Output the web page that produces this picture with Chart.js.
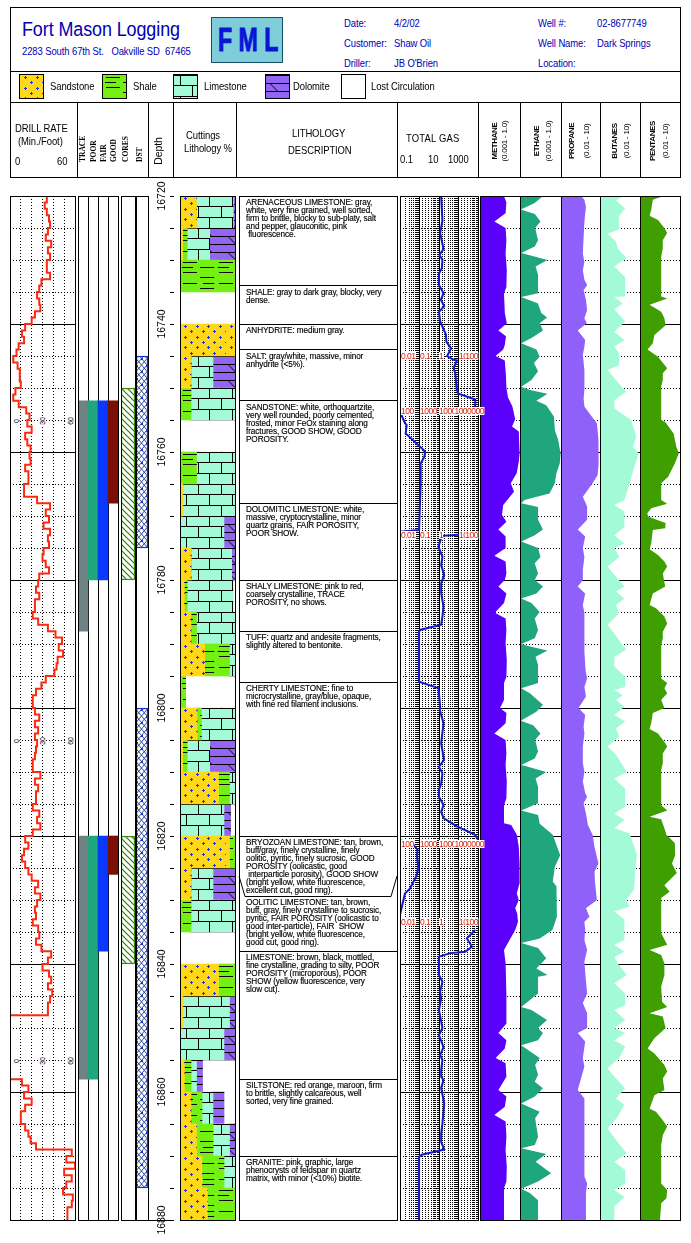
<!DOCTYPE html>
<html>
<head>
<meta charset="utf-8">
<title>Fort Mason Logging</title>
<script src="https://cdn.jsdelivr.net/npm/chart.js@4"></script>
<style>
  body { margin: 0; background: #fff; }
  #page { position: relative; width: 691px; height: 1243px; overflow: hidden; font-family: 'Liberation Sans', Arial, sans-serif; }
  #page canvas { position: absolute; }
  .t { position: absolute; white-space: pre; color: #000; font-size: 10.5px; line-height: 12px; letter-spacing: -0.1px; transform: scaleX(0.9); transform-origin: left center; }
  .blue { color: #0000b4; }
  .rule { position: absolute; background: #000; }
  .swatch { position: absolute; width: 23px; height: 23px; border: 1px solid #000; top: 74px; }
  .desc { font-size: 8.2px; line-height: 8px; letter-spacing: -0.1px; -webkit-text-stroke: 0.15px #000; transform: none; }
  .gasTick { color: #e0200c; background: #fff; font-size: 8.5px; line-height: 8px; letter-spacing: -0.5px; transform: none; }
</style>
</head>
<body>
<div id="page"></div>
<script>
// ============ Data ============
const TOP_DEPTH = 16720;
const BOTTOM_DEPTH = 16880;

// drill rate, min/foot, one value per foot from 16720
const drillRate = [
  34, 32, 34, 36, 37, 35, 33, 38, 35, 37, 34, 34, 37, 29, 27, 25, 27, 28, 23, 20,
  14, 11, 13, 8, 6, 3, 7, 9, 9, 10, 5, 3, 8, 15, 18, 16, 20, 14, 16, 19,
  18, 19, 14, 17, 17, 13, 13, 25, 37, 33, 36, 31, 37, 35, 36, 31, 30, 33, 36, 27,
  26, 24, 27, 23, 23, 21, 26, 35, 42, 48, 45, 49, 44, 43, 41, 33, 29, 24, 21, 21,
  23, 27, 23, 26, 23, 25, 24, 23, 21, 21, 28, 23, 26, 24, 24, 21, 27, 25, 28, 21,
  14, 17, 13, 11, 14, 17, 20, 26, 23, 28, 25, 23, 24, 21, 26, 27, 24, 29, 38, 35,
  30, 36, 38, 35, 39, 37, 35, 35, 0, 0, 0, 0, 0, 0, 0, 0, 0, 0, 11, 17,
  13, 20, 14, 10, 10, 14, 17, 19, 24, 57, 52, 60, 50, 57, 52, 49, 58, 57, 53, 53, 53
];
const showColumns = ['TRACE', 'POOR', 'FAIR', 'GOOD'];
const showIntervals1 = [[16752, 16788], [16752, 16780], [16752, 16780], [16752, 16768]];
const showIntervals2 = [[16820, 16858], [16820, 16858], [16820, 16838], [16820, 16826]];
const coreIntervals = [[16750, 16780], [16820, 16840]];
const dstIntervals = [[16745, 16775], [16800, 16875]];
const depthTicks = 5;

// cuttings, percent per 5 foot sample
const cuttingLabels = [
  '16720', '16725', '16730', '16735', '16740', '16745', '16750', '16755',
  '16760', '16765', '16770', '16775', '16780', '16785', '16790', '16795',
  '16800', '16805', '16810', '16815', '16820', '16825', '16830', '16835',
  '16840', '16845', '16850', '16855', '16860', '16865', '16870', '16875'
];
const sandstone = [30, 5, 0, 0, 100, 20, 0, 0, 0, 5, 0, 20, 8, 20, 45, 0, 31, 5, 70, 0, 90, 20, 0, 0, 70, 5, 0, 8, 20, 30, 40, 50];
const shale = [0, 8, 100, 0, 0, 0, 20, 0, 30, 0, 0, 0, 5, 10, 45, 10, 8, 8, 20, 0, 10, 0, 20, 0, 30, 0, 0, 12, 20, 30, 40, 50];
const limestone = [67, 41, 0, 0, 0, 40, 80, 0, 70, 95, 80, 74, 83, 70, 10, 0, 61, 41, 10, 80, 0, 40, 80, 0, 0, 85, 80, 10, 20, 30, 20, 0];
const dolomite = [3, 46, 0, 0, 0, 40, 0, 0, 0, 0, 20, 6, 0, 0, 0, 0, 0, 46, 0, 12, 0, 40, 0, 0, 0, 10, 20, 11, 20, 10, 0, 0];

// formation tops and description text
const descriptionTops = [16734, 16740, 16744, 16752, 16768, 16780, 16788, 16796, 16820, 16838, 16858, 16870];
const bryozoanBase = 16829.4;
const bryozoanNotch = 16826.25;
const descriptions = [
  [16720, 'ARENACEOUS LIMESTONE: gray,\nwhite, very fine grained, well sorted,\nfirm to brittle, blocky to sub-platy, salt\nand pepper, glauconitic, pink\n fluorescence.'],
  [16734, 'SHALE: gray to dark gray, blocky, very\ndense.'],
  [16740, 'ANHYDRITE: medium gray.'],
  [16744, 'SALT: gray/white, massive, minor\nanhydrite (<5%).'],
  [16752, 'SANDSTONE: white, orthoquartzite,\nvery well rounded, poorly cemented,\nfrosted, minor FeOx staining along\nfractures, GOOD SHOW, GOOD\nPOROSITY.'],
  [16768, 'DOLOMITIC LIMESTONE: white,\nmassive, cryptocrystalline, minor\nquartz grains, FAIR POROSITY,\nPOOR SHOW.'],
  [16780, 'SHALY LIMESTONE: pink to red,\ncoarsely crystalline, TRACE\nPOROSITY, no shows.'],
  [16788, 'TUFF: quartz and andesite fragments,\nslightly altered to bentonite.'],
  [16796, 'CHERTY LIMESTONE: fine to\nmicrocrystalline, gray/blue, opaque,\nwith fine red filament inclusions.'],
  [16820, 'BRYOZOAN LIMESTONE: tan, brown,\nbuff/gray, finely crystalline, finely\noolitic, pyritic, finely sucrosic, GOOD\nPOROSITY (oolicastic, good\n interparticle porosity), GOOD SHOW\n(bright yellow, white fluorescence,\nexcellent cut, good ring).'],
  [16829.4, 'OOLITIC LIMESTONE: tan, brown,\nbuff, gray, finely crystalline to sucrosic,\npyritic, FAIR POROSITY (oolicastic to\ngood inter-particle), FAIR  SHOW\n(bright yellow, white fluorescence,\ngood cut, good ring).'],
  [16838, 'LIMESTONE: brown, black, mottled,\nfine crystalline, grading to silty, POOR\nPOROSITY (microporous), POOR\nSHOW (yellow fluorescence, very\nslow cut).'],
  [16858, 'SILTSTONE: red orange, maroon, firm\nto brittle, slightly calcareous, well\nsorted, very fine grained.'],
  [16870, 'GRANITE: pink, graphic, large\nphenocrysts of feldspar in quartz\nmatrix, with minor (<10%) biotite.']
];

// total gas, null breaks the curve where the scale wraps
const gasFeet = [
  0.1, 3.8, 5.8, 8.3, 9.2, 10, 11.3, 12.1, 13.9, 15.2, 16.2, 17.2, 18.1, 19.6, 20.4, 21.6, 22.8, 23.8, 25, 25.6, 25.7, 26.9, 27.7, 30.3, 30.9, 31.8, 33.3, 33.5, 33.6,
  33.7, 35.5, 35.8, 37.1, 39.4, 39.95, 40.7, 42, 44.9, 52.2, 52.45, 52.5,
  52.6, 53, 53.1, 54.8, 56.4, 57.7, 59.2, 60.5, 62, 64.2, 65.7, 67, 67.8, 68.1, 75.9, 76.9, 79.8, 80.3, 82.4, 85.5, 88.1, 89.2, 90.2, 91.8, 92.8, 93.85, 95.15, 96.2, 97.2, 98.5, 99.8, 100.6, 100.65,
  100.7, 100.9, 101.4, 102.2, 103, 104.8, 106.1, 108.2, 109, 112.3, 112.4,
  114.7, 116, 117.3, 118.1, 118.3, 118.85, 120.9, 121.7, 122.8, 124.3, 125.4, 127.2, 130, 131.1, 133, 134.2, 135, 136.6, 137.6, 138.1, 139.4, 141.8, 144.9, 146.5, 147.8, 149, 149.8, 150.1, 160
];
const gasValue = [
  1.29, 1.5, 1.15, 1.7, 1.05, 1.5, 1.4, 1.0, 1.0, 1.7, 1.25, 1.85, 1.0, 1.15, 1.5, 2.25, 2.4, 4.2, 2.6, 5.6, 8.3, 5.6, 6.8, 8.3, 10, 72, 72, 100, null,
  0.01, 0.018, 0.022, 0.0195, 0.13, 0.195, 0.18, 0.107, 0.115, 0.095, 0.01, null,
  100, 4.6, 1.4, 0.94, 1.5, 1.29, 1.85, 1.29, 1.29, 1.7, 1.5, 1.29, 0.107, 0.095, 0.095, 0.94, 1.15, 1.1, 1.7, 1.29, 1.8, 1.0, 1.5, 1.29, 1.0, 1.0, 1.7, 1.29, 1.7, 8.3, 72, 100, null,
  0.01, 0.027, 0.049, 0.081, 0.073, 0.088, 0.073, 0.033, 0.018, 0.01, null,
  72, 27, 49, 22, 3.8, 1.0, 1.0, 1.0, 1.5, 1.15, 1.29, 1.0, 1.5, 1.0, 1.7, 1.15, 1.5, 1.29, 1.29, 1.7, 1.29, 1.85, 1.5, 1.29, 1.29, 1.85, 0.13, 0.095, 0.095
];
const gasDecades = [0.01, 0.1, 1, 10, 100];
const gasScaleBands = [
  [16745, ['0.01', '0.1', '1', '10', '100']],
  [16753.6, ['100', '1000', '10000', '100000', '1000000']],
  [16772.9, ['0.01', '0.1', '1', '10', '100']],
  [16821.3, ['100', '1000', '10000', '100000', '1000000']],
  [16833.4, ['0.01', '0.1', '1', '10', '100']]
];

// chromatograph curves, percent of track width at feet below the top
const methaneFeet = [0, 1, 2.7, 4, 5, 6.9, 9, 11.6, 14.2, 15.2, 18.3, 19.9, 21, 21.9, 23.3, 24, 25, 25.7, 28.2, 30, 31.5, 32.9, 34.9, 36, 36.8, 40.2, 41.5, 43.3, 44.9, 46.2, 48.3, 49.8, 50.9, 52.1, 53.2, 55, 56.2, 57.1, 59, 60, 61, 62.1, 63.6, 65.1, 66, 67.8, 69.9, 72.5, 75.1, 76.1, 78.75, 80, 80.8, 82.4, 84, 85, 87.1, 88.9, 91.5, 94.1, 95.2, 98, 98.3, 99.8, 101.7, 104.3, 105.6, 107.4, 109, 110, 111.3, 112.1, 113.4, 114.7, 116.25, 117.8, 119.9, 124.8, 129.3, 130.8, 131.9, 133.2, 134.7, 135.5, 137.6, 139.7, 140.7, 142.3, 143.6, 144.6, 147, 149.1, 151.7, 154, 155, 160];
const methane = [60, 66, 64, 36, 64, 66, 64, 67, 66, 60, 62, 67, 46, 65, 62, 58, 39, 62, 65, 66, 70, 81, 88, 80, 97, 99, 97, 92, 77, 85, 58, 55, 66, 46, 64, 64, 36, 64, 66, 62, 46, 66, 60, 37, 64, 66, 64, 67, 66, 60, 60, 50, 66, 64, 36, 64, 66, 64, 67, 66, 60, 60, 78, 92, 97, 99, 99, 99, 92, 97, 88, 93, 95, 88, 74, 60, 64, 66, 66, 46, 66, 62, 39, 64, 66, 46, 66, 62, 36, 64, 66, 64, 67, 66, 60, 60];

const ethaneFeet = [0, 1.1, 2.1, 2.8, 4, 5, 6.9, 7.9, 8.9, 10, 11, 12.3, 15.2, 15.8, 16.8, 18.3, 19, 19.9, 21, 22.2, 23, 24, 25.1, 26.1, 27.4, 28.75, 29.8, 30.3, 30.9, 32, 32.7, 34.5, 36.6, 38.1, 40.2, 41.8, 43.3, 44.9, 46.5, 47.5, 48, 48.6, 50.6, 52.1, 53, 54, 55, 56.4, 57.4, 59, 60, 61, 62.1, 62.9, 63.6, 65, 66, 67.8, 69.1, 70, 70.4, 71, 72, 73.3, 76.1, 76.9, 77.7, 79.5, 80.6, 82, 82.7, 84, 85, 86.8, 87.9, 88.9, 89.1, 90, 91, 92.3, 94.9, 96, 96.7, 98.1, 99.8, 103, 104.8, 107.1, 107.9, 110, 112.6, 114.7, 116, 116.7, 117.5, 119.1, 120.7, 121.7, 122, 124.6, 126.7, 127.2, 128.75, 130, 130.8, 131.9, 132.7, 134.7, 135.8, 137.3, 138.4, 139.4, 140.7, 141.8, 143.1, 144.1, 147, 148.3, 148.8, 149.7, 150.9, 152.7, 154, 155.1, 155.8, 156.9, 160];
const ethane = [56, 36, 2, 36, 50, 37, 44, 36, 3, 67, 38, 44, 44, 3, 44, 52, 66, 48, 56, 28, 3, 40, 48, 34, 44, 28, 3, 24, 67, 40, 64, 83, 85, 93, 99, 97, 89, 85, 72, 11, 3, 44, 44, 56, 36, 3, 44, 50, 36, 44, 36, 56, 40, 3, 28, 48, 36, 44, 36, 3, 24, 67, 38, 44, 44, 3, 24, 56, 40, 2, 32, 50, 37, 44, 36, 3, 15, 64, 38, 44, 44, 3, 44, 48, 80, 98, 85, 80, 89, 90, 90, 79, 48, 3, 44, 64, 40, 67, 44, 44, 3, 28, 66, 44, 56, 44, 3, 48, 37, 44, 36, 56, 36, 3, 48, 37, 44, 36, 3, 64, 38, 76, 44, 3, 24, 44, 44];

const propaneFeet = [0, 0.6, 1.7, 4, 6.4, 9, 10.3, 11.6, 13.1, 13.9, 14.7, 16.25, 17.8, 19.1, 19.9, 21, 22.5, 23.5, 24.8, 27.2, 30.3, 31.6, 32.9, 34, 35.5, 38.1, 40.2, 41.8, 43.6, 44.9, 47, 48.5, 50.6, 52.1, 53.2, 55, 56.4, 58.4, 60, 61, 62.1, 63.9, 65.1, 66.8, 69.9, 71.2, 74.1, 75.4, 76.7, 78.2, 80, 81.1, 82.9, 84, 86, 88.6, 90, 91.5, 93.3, 93.85, 94.9, 96.5, 98.3, 99.8, 101.7, 104.3, 105.6, 107.1, 110, 111.3, 112.6, 113.4, 114.7, 116.25, 117.8, 119.6, 122, 124.6, 126.1, 127.7, 130, 130.8, 132.1, 134.7, 136, 139.7, 141, 143.3, 149.9, 153.2, 154.3, 155.8, 160];
const propane = [52, 60, 64, 60, 58, 56, 60, 56, 60, 67, 58, 64, 67, 60, 66, 43, 62, 60, 56, 60, 60, 58, 60, 73, 92, 96, 97, 96, 94, 81, 56, 67, 67, 43, 62, 56, 60, 56, 56, 43, 62, 56, 60, 60, 60, 60, 63, 67, 60, 64, 45, 62, 58, 60, 56, 56, 60, 56, 62, 67, 58, 64, 69, 81, 86, 96, 86, 87, 92, 64, 73, 60, 62, 60, 67, 60, 63, 67, 56, 67, 67, 43, 62, 56, 60, 43, 60, 60, 60, 60, 67, 64, 64];

const butanesFeet = [0, 0.7, 1.9, 3.2, 5.2, 5.9, 7.1, 8.2, 9.7, 11, 12.7, 15.7, 15.8, 16.8, 17.7, 19.6, 21.2, 22.5, 23.5, 24.6, 26.4, 27.2, 28.75, 30.6, 31.9, 33.2, 35, 37.6, 39.2, 40.2, 42.3, 44.9, 47.5, 48.3, 49.3, 51.7, 53, 54.3, 55, 56.4, 57.9, 59.5, 61, 61.8, 62.9, 63.9, 65.2, 67, 68.9, 70.9, 72, 73.5, 75.1, 76.7, 77.2, 78, 78.75, 79.8, 81.1, 82.1, 83.2, 84.5, 86, 87.3, 90, 91, 92.6, 95.4, 96.5, 97.5, 98.8, 99.6, 101.7, 103, 105.8, 108.4, 110, 111, 111.8, 113.1, 116.25, 117, 118.1, 118.9, 119.9, 121.7, 123, 124.6, 126.4, 127.2, 128.75, 130, 130.8, 131.9, 132.9, 134.7, 136.3, 137.9, 139.4, 141, 142, 143.9, 145.7, 147.5, 149.6, 150.9, 152.2, 154.3, 155.3, 156.4, 157.9, 160];
const butanes = [57, 40, 63, 47, 48, 19, 40, 44, 67, 36, 63, 63, 36, 57, 36, 63, 36, 61, 36, 48, 48, 19, 40, 65, 36, 36, 78, 91, 82, 97, 86, 74, 61, 36, 61, 61, 36, 61, 36, 48, 19, 40, 61, 40, 61, 40, 48, 19, 42, 65, 36, 36, 63, 63, 36, 57, 40, 61, 36, 63, 40, 48, 19, 40, 67, 36, 63, 63, 36, 61, 36, 74, 86, 92, 88, 85, 65, 74, 36, 61, 61, 36, 61, 36, 44, 67, 36, 63, 63, 36, 63, 36, 63, 36, 63, 48, 19, 40, 63, 40, 61, 44, 19, 40, 67, 36, 63, 63, 36, 61, 36, 36];

const pentanesFeet = [0, 0.6, 2.2, 3.1, 3.75, 5, 5.8, 6.9, 8.2, 9.5, 15.7, 16, 17, 18.1, 19.1, 20.2, 21.7, 23, 24, 25.1, 26.9, 27.7, 28.75, 29.8, 35, 35.3, 37.1, 39.2, 40.2, 41.8, 43.9, 44.9, 47.5, 48.1, 48.8, 49.6, 50.1, 51.1, 51.9, 52.2, 54.3, 55.2, 56.1, 57.1, 57.9, 59, 61, 62.1, 63.9, 64.4, 65.7, 66.8, 68.1, 69.1, 70.2, 75.4, 76.1, 76.9, 77.7, 78.75, 80, 80.8, 82.4, 83.3, 84, 85.3, 86, 87.1, 88.6, 89.7, 95.2, 96, 97, 97.4, 98.8, 99.8, 101.1, 103, 104.3, 105.8, 107.7, 108.7, 109.7, 115.2, 117, 117.8, 118.6, 119.9, 121.7, 123.5, 125.9, 126.7, 127.7, 128.2, 130, 131.6, 133.2, 134, 135.8, 136.8, 137.9, 139.7, 140.5, 142.6, 143.1, 144.4, 145.4, 146.7, 148.3, 154.3, 155.3, 156.6, 157.4, 160];
const pentanes = [59, 32, 28, 24, 45, 61, 68, 57, 57, 53, 53, 68, 24, 53, 61, 64, 36, 32, 19, 45, 68, 57, 57, 53, 53, 63, 84, 91, 97, 87, 70, 53, 53, 68, 28, 18, 21, 64, 63, 32, 28, 24, 45, 61, 68, 57, 63, 32, 24, 40, 61, 68, 57, 57, 53, 53, 68, 61, 68, 53, 61, 32, 28, 24, 45, 61, 68, 57, 57, 53, 53, 68, 24, 53, 61, 66, 87, 88, 80, 92, 61, 74, 53, 53, 68, 24, 53, 61, 61, 53, 55, 68, 24, 57, 64, 36, 19, 36, 61, 68, 57, 61, 36, 24, 40, 57, 68, 57, 53, 53, 68, 66, 53, 50];

// ============ Helpers ============
const BLACK = '#000';
const page = document.getElementById('page');

function put(text, x, y, css = {}, cls = '') {
    const el = document.createElement('div');
    el.className = 't ' + cls;
    el.textContent = text;
    el.style.left = x + 'px';
    el.style.top = y + 'px';
    Object.assign(el.style, css);
    page.appendChild(el);
    return el;
}

// text centred on x,y and turned to read upward
function putUp(text, x, y, css = {}) {
    return put(text, x, y, { transform: 'translate(-50%,-50%) rotate(-90deg)', transformOrigin: 'center', ...css });
}

function rule(x, y, w, h) {
    const el = document.createElement('div');
    el.className = 'rule';
    el.style.cssText = `left:${x}px;top:${y}px;width:${w}px;height:${h}px`;
    page.appendChild(el);
}

function tile(w, h, bg, draw) {
    const c = document.createElement('canvas');
    c.width = w;
    c.height = h;
    const g = c.getContext('2d');
    g.fillStyle = bg;
    g.fillRect(0, 0, w, h);
    g.strokeStyle = BLACK;
    g.lineWidth = 1;
    const seg = (x1, y1, x2, y2) => {
        g.beginPath();
        g.moveTo(x1, y1);
        g.lineTo(x2, y2);
        g.stroke();
    };
    draw(g, seg);
    return c;
}

// ============ Rock and test patterns ============
const sandTile = tile(46, 32, '#ffd81c', (g) => {
    g.fillStyle = '#1438e0';
    for (let r = 0; r < 6; r++) {
        for (let k = 0; k < 4; k++) {
            const x = 5 + 11.5 * k + (r % 2 ? 6 : 0);
            const y = 2 + 5.33 * r;
            g.fillRect(Math.round(x) - 1, Math.round(y), 3, 1);
            g.fillRect(Math.round(x), Math.round(y) - 1, 1, 3);
        }
    }
});
const shaleTile = tile(36, 32, '#74f014', (g, seg) => {
    for (let r = 0; r < 6; r++) {
        const y = 2.5 + Math.floor(5.33 * r);
        const x = r % 2 ? 20 : 3;
        seg(x, y, x + 14, y);
        if (x + 14 > 36) seg(0, y, x + 14 - 36, y);
        const x2 = r % 2 ? 2 : 23;
        if (r % 3 === 1) seg(x2, y, x2 + 11, y);
    }
});
const limeTile = tile(46, 64, '#a2fbd6', (g, seg) => {
    for (let r = 0; r < 6; r++) {
        const y1 = Math.floor(10.67 * r) + 0.5;
        const y2 = Math.floor(10.67 * (r + 1)) + 0.5;
        seg(0, y1, 46, y1);
        const xs = r % 2 ? [18.5, 41.5] : [6.5, 29.5];
        xs.forEach((x) => seg(x, y1, x, y2));
    }
});
const doloTile = tile(44, 32, '#9464f4', (g, seg) => {
    for (let r = 0; r < 4; r++) {
        const y = 8 * r + 0.5;
        seg(0, y, 44, y);
        const x = r % 2 ? 4 : 24;
        seg(x, y, x + 8, y + 8);
    }
});
const hatchTile = tile(6, 6, '#fff', (g, seg) => {
    g.strokeStyle = '#2f7a08';
    g.lineWidth = 1.2;
    seg(-1, -1, 7, 7);
    seg(-4, 2, 2, 8);
    seg(4, -2, 8, 2);
});
const dstTile = tile(11, 13, '#fff', (g, seg) => {
    g.strokeStyle = '#2f4a94';
    seg(0, 0, 11, 13);
    seg(5.5, 0, 11, 6.5);
    seg(0, 6.5, 5.5, 13);
    seg(11, 0, 0, 13);
    seg(5.5, 0, 0, 6.5);
    seg(11, 6.5, 5.5, 13);
    g.fillStyle = '#1034e8';
    g.fillRect(5, 6, 2, 2);
    g.fillRect(0, 0, 2, 2);
    g.fillRect(10, 0, 1, 2);
});

function patternFrom(canvas) {
    const p = canvas.getContext('2d').createPattern(canvas, 'repeat');
    p.setTransform(new DOMMatrix().translate(1, 1));
    return p;
}

// ============ Track charts ============
const framePlugin = {
    id: 'frame',
    afterDraw(chart) {
        const { ctx, chartArea: a } = chart;
        ctx.save();
        ctx.strokeStyle = BLACK;
        ctx.lineWidth = 1;
        ctx.strokeRect(a.left + 0.5, a.top + 0.5, a.right - a.left, a.bottom - a.top);
        ctx.restore();
    }
};

function addChart(x, w, type, data, scales, extra = {}) {
    const top = 196;
    const h = 1024;
    const canvas = document.createElement('canvas');
    canvas.width = w + 3;
    canvas.height = h + 3;
    canvas.style.left = (x - 1) + 'px';
    canvas.style.top = (top - 1) + 'px';
    page.appendChild(canvas);
    return new Chart(canvas, {
        type,
        data,
        plugins: [framePlugin].concat(extra.plugins || []),
        options: {
            indexAxis: extra.indexAxis || 'y',
            responsive: false,
            animation: false,
            devicePixelRatio: 1,
            layout: { padding: { left: 1, top: 1, right: 2, bottom: 2 } },
            plugins: { legend: { display: false }, tooltip: { enabled: false } },
            scales
        }
    });
}

function hiddenTicks() {
    return { display: false, autoSkip: false };
}

// depth axis with the 5 foot dotted and 20 foot solid grid
function depthScale(showGrid) {
    return {
        type: 'linear',
        reverse: true,
        min: TOP_DEPTH,
        max: BOTTOM_DEPTH,
        ticks: { ...hiddenTicks(), stepSize: depthTicks },
        border: {
            display: false,
            dash: (c) => (c.tick && c.tick.value % 20 === 0 ? [] : [1, 2])
        },
        grid: { display: showGrid, drawTicks: false, color: BLACK, lineWidth: 1 }
    };
}

function valueScale(type, min, max, grid) {
    return {
        type,
        min,
        max,
        ticks: { ...hiddenTicks(), stepSize: type === 'linear' ? grid.step || max : undefined },
        border: grid.dash || { display: false },
        grid: { display: !!grid.show, drawTicks: false, color: BLACK, lineWidth: 1 }
    };
}

// drill rate
addChart(10, 65, 'line', {
    datasets: [{
        data: drillRate.map((v, i) => ({ x: v, y: TOP_DEPTH + i })),
        borderColor: '#fb2a12',
        borderWidth: 2,
        pointRadius: 0,
        stepped: 'after',
        fill: false
    }]
}, {
    x: valueScale('linear', 0, 60, { show: true, step: 10, dash: { display: false, dash: [1, 2] } }),
    y: depthScale(true)
});

// show columns
function floatingBars(labels, sets, x, w) {
    return addChart(x, w, 'bar', { labels, datasets: sets }, {
        x: {
            type: 'category',
            ticks: hiddenTicks(),
            border: { display: false },
            grid: { drawTicks: false, color: BLACK, lineWidth: 1 }
        },
        y: depthScale(false)
    }, { indexAxis: 'x' });
}

const showColors = ['#6f8384', '#20a67c', '#0a38ff', '#7a1004'];
function columnSet(intervals, colors, extra = {}) {
    return {
        data: intervals,
        backgroundColor: colors,
        barPercentage: 1,
        categoryPercentage: 1,
        grouped: false,
        ...extra
    };
}
floatingBars(showColumns, [
    columnSet(showIntervals1, showColors),
    columnSet(showIntervals2, showColors)
], 78, 40);

// cores and drill stem tests
floatingBars(['CORES'], coreIntervals.map((iv) => columnSet([iv], patternFrom(hatchTile), {
    borderColor: '#3c8a10', borderWidth: 1.5, borderSkipped: false
})), 121, 14);
floatingBars(['DST'], dstIntervals.map((iv) => columnSet([iv], patternFrom(dstTile), {
    borderColor: '#1030d8', borderWidth: 1.5, borderSkipped: false
})), 136, 12);

// depth ticks and labels
(function depthAxis() {
    const canvas = document.createElement('canvas');
    canvas.width = 27;
    canvas.height = 1064;
    canvas.style.left = '148px';
    canvas.style.top = '176px';
    page.appendChild(canvas);
    new Chart(canvas, {
        type: 'line',
        data: { datasets: [] },
        options: {
            indexAxis: 'y',
            responsive: false,
            animation: false,
            devicePixelRatio: 1,
            layout: { padding: { left: 0, top: 20, right: 1, bottom: 20 } },
            plugins: { legend: { display: false }, tooltip: { enabled: false } },
            scales: {
                x: { type: 'linear', display: false },
                y: {
                    type: 'linear',
                    position: 'left',
                    reverse: true,
                    min: TOP_DEPTH,
                    max: BOTTOM_DEPTH,
                    afterFit: (s) => { s.width = 26; },
                    border: { display: false },
                    grid: { drawOnChartArea: false, tickLength: 4, color: BLACK },
                    ticks: {
                        stepSize: depthTicks,
                        autoSkip: false,
                        minRotation: 90,
                        maxRotation: 90,
                        crossAlign: 'center',
                        padding: -7,
                        color: BLACK,
                        font: { family: "'Liberation Sans Narrow','Liberation Sans'", size: 10.5 },
                        callback: (v) => (v % 20 === 0 ? String(v) : '')
                    }
                }
            }
        }
    });
})();
rule(148, 1220, 26, 1);

// cuttings lithology
function stackSet(values, canvas) {
    return {
        data: values,
        backgroundColor: patternFrom(canvas),
        barPercentage: 1,
        categoryPercentage: 1,
        borderWidth: 0
    };
}
addChart(180, 55, 'bar', {
    labels: cuttingLabels,
    datasets: [
        stackSet(sandstone, sandTile),
        stackSet(shale, shaleTile),
        stackSet(limestone, limeTile),
        stackSet(dolomite, doloTile)
    ]
}, {
    x: {
        type: 'linear',
        stacked: true,
        min: 0,
        max: 100,
        ticks: hiddenTicks(),
        border: { display: false },
        grid: { display: false, drawTicks: false }
    },
    y: {
        type: 'category',
        stacked: true,
        ticks: hiddenTicks(),
        border: { display: false },
        grid: { display: false, drawTicks: false }
    }
});

// lithology description boxes
const notchPlugin = {
    id: 'notch',
    afterDraw(chart) {
        const { ctx, chartArea: a, scales } = chart;
        const yn = Math.round(scales.y.getPixelForValue(bryozoanNotch));
        const yb = Math.round(scales.y.getPixelForValue(bryozoanBase)) + 0.5;
        ctx.save();
        ctx.strokeStyle = BLACK;
        ctx.lineWidth = 1;
        ctx.beginPath();
        ctx.moveTo(a.left, yn);
        ctx.lineTo(a.left + 6, yb);
        ctx.lineTo(a.right - 6, yb);
        ctx.lineTo(a.right, yn);
        ctx.stroke();
        ctx.restore();
    }
};
const descChart = addChart(239, 158, 'line', { datasets: [] }, {
    x: { type: 'linear', display: false, min: 0, max: 1 },
    y: {
        type: 'linear',
        reverse: true,
        min: TOP_DEPTH,
        max: BOTTOM_DEPTH,
        afterBuildTicks: (s) => { s.ticks = descriptionTops.map((value) => ({ value })); },
        ticks: hiddenTicks(),
        border: { display: false },
        grid: { drawTicks: false, color: BLACK, lineWidth: 1 }
    }
}, { plugins: [notchPlugin] });
descriptions.forEach(([depth, text]) => {
    put(text, 246, 195 + Math.round(descChart.scales.y.getPixelForValue(depth)) + 3, {}, 'desc');
});

// total gas
const gasChart = addChart(400, 78, 'line', {
    datasets: [{
        data: gasFeet.map((f, i) => ({ x: gasValue[i], y: TOP_DEPTH + f })),
        borderColor: '#1018d4',
        borderWidth: 2,
        pointRadius: 0,
        fill: false,
        spanGaps: false
    }]
}, {
    x: {
        type: 'logarithmic',
        min: gasDecades[0],
        max: gasDecades[gasDecades.length - 1],
        ticks: hiddenTicks(),
        border: {
            display: false,
            dash: (c) => (c.tick && gasDecades.some((d) => Math.abs(c.tick.value / d - 1) < 1e-6) ? [] : [1, 1])
        },
        grid: { drawTicks: false, color: BLACK, lineWidth: 1 }
    },
    y: depthScale(true)
});

// chromatograph tracks
function fillTrack(x, w, feet, values, color) {
    addChart(x, w, 'line', {
        datasets: [{
            data: feet.map((f, i) => ({ x: values[i], y: TOP_DEPTH + f })),
            backgroundColor: color,
            borderWidth: 0,
            pointRadius: 0,
            fill: 'origin'
        }]
    }, {
        x: valueScale('linear', 0, 100, {}),
        y: depthScale(true)
    });
}
fillTrack(480, 40, methaneFeet, methane, '#5a00fb');
fillTrack(520, 41, ethaneFeet, ethane, '#20a67c');
fillTrack(561, 39, propaneFeet, propane, '#9060fb');
fillTrack(600, 40, butanesFeet, butanes, '#a2fbd6');
fillTrack(640, 40, pentanesFeet, pentanes, '#3f9f00');

// gas scale notes sit on top of the tracks, the long ones spill over the edge
gasScaleBands.forEach(([depth, labels]) => {
    const y = 195 + Math.round(gasChart.scales.y.getPixelForValue(depth));
    labels.forEach((text, i) => {
        const x = 399 + Math.round(gasChart.scales.x.getPixelForValue(gasDecades[i]));
        if (i === labels.length - 1) {
            put(text, text.length > 3 ? x + 6 : x, y - 4, { transform: 'translateX(-100%)' }, 'gasTick');
        } else {
            put(text, i === 0 ? x + 1 : x, y - 4, {}, 'gasTick');
        }
    });
});

// ============ Header ============
rule(10, 7, 671, 1);
rule(10, 71, 671, 1);
rule(10, 102, 671, 1);
rule(10, 177, 671, 1);
rule(10, 7, 1, 171);
rule(680, 7, 1, 171);
[77, 148, 173, 236, 397, 478, 520, 561, 600, 640].forEach((x) => rule(x, 102, 1, 75));

put('Fort Mason Logging', 22, 18, { fontSize: '19.5px', lineHeight: '22px', transform: 'scaleX(0.92)', transformOrigin: 'left' }, 'blue');
put('2283 South 67th St.   Oakville SD  67465', 22, 45, {}, 'blue');

const logo = document.createElement('div');
logo.style.cssText = 'position:absolute;left:211px;top:17px;width:70px;height:44px;background:#7ecdd8;border:1px solid #14506a';
page.appendChild(logo);
put('F M L', 218, 21, { fontSize: '34px', lineHeight: '36px', fontWeight: 'bold', color: '#0a14d8', transform: 'scaleX(0.68)', transformOrigin: 'left', letterSpacing: '0', webkitTextStroke: '1px #0a14d8' });

[['Date:', '4/2/02', 17], ['Customer:', 'Shaw Oil', 37], ['Driller:', 'JB O\'Brien', 57]].forEach(([k, v, y]) => {
    put(k, 344, y, {}, 'blue');
    put(v, 394, y, {}, 'blue');
});
[['Well #:', '02-8677749', 17], ['Well Name:', 'Dark Springs', 37], ['Location:', '', 57]].forEach(([k, v, y]) => {
    put(k, 538, y, {}, 'blue');
    if (v) put(v, 597, y, {}, 'blue');
});

// legend
[[19, sandTile, 'Sandstone', 49.5], [102, shaleTile, 'Shale', 133], [173, limeTile, 'Limestone', 203.5], [265, doloTile, 'Dolomite', 293], [341, null, 'Lost Circulation', 370.5]].forEach(([x, pat, text, tx]) => {
    const s = document.createElement('div');
    s.className = 'swatch';
    s.style.left = x + 'px';
    s.style.background = pat ? `url(${pat.toDataURL()})` : '#fff';
    page.appendChild(s);
    put(text, tx, 80);
});

// column headings
put('DRILL RATE', 15, 122);
put('(Min./Foot)', 18, 135);
put('0', 15, 155);
put('60', 57, 155);
const serif = { fontFamily: "'Liberation Serif',serif", fontWeight: 'bold', fontSize: '7.5px', lineHeight: '8px', letterSpacing: '0', transform: 'rotate(-90deg)', transformOrigin: 'left center' };
[['TRACE', 83], ['POOR', 93.5], ['FAIR', 104], ['GOOD', 114], ['CORES', 126], ['DST', 140]].forEach(([t, x]) => {
    put(t, x, 158, serif);
});
putUp('Depth', 157.5, 151);
put('Cuttings', 186, 129);
put('Lithology %', 183.5, 142);
put('LITHOLOGY', 292, 127);
put('DESCRIPTION', 288, 144);
put('TOTAL GAS', 406, 132, { letterSpacing: '0.2px' });
put('0.1', 400, 153);
put('10', 428, 153);
put('1000', 448, 153);
[['METHANE', '(0.001 - 1.0)', 495, 505], ['ETHANE', '(0.001 - 1.0)', 537, 549], ['PROPANE', '(0.01 - 10)', 572, 587], ['BUTANES', '(0.01 - 10)', 615, 627], ['PENTANES', '(0.01 - 10)', 653, 666]].forEach(([name, range, x1, x2]) => {
    putUp(name, x1, 141, { fontSize: '8px', fontWeight: 'bold', letterSpacing: '-0.4px' });
    putUp(range, x2, 141, { fontSize: '8px', letterSpacing: '-0.2px' });
});

// scale notes repeated down the drill rate track
[16755, 16805, 16855].forEach((depth) => {
    const y = 196 + (depth - TOP_DEPTH) * 6.4;
    const css = { fontSize: '7px', lineHeight: '7px', background: '#fff' };
    putUp('0', 16, y + 1, css);
    putUp('30', 42, y + 1, css);
    putUp('60', 70, y + 1, css);
});
</script>
</body>
</html>
